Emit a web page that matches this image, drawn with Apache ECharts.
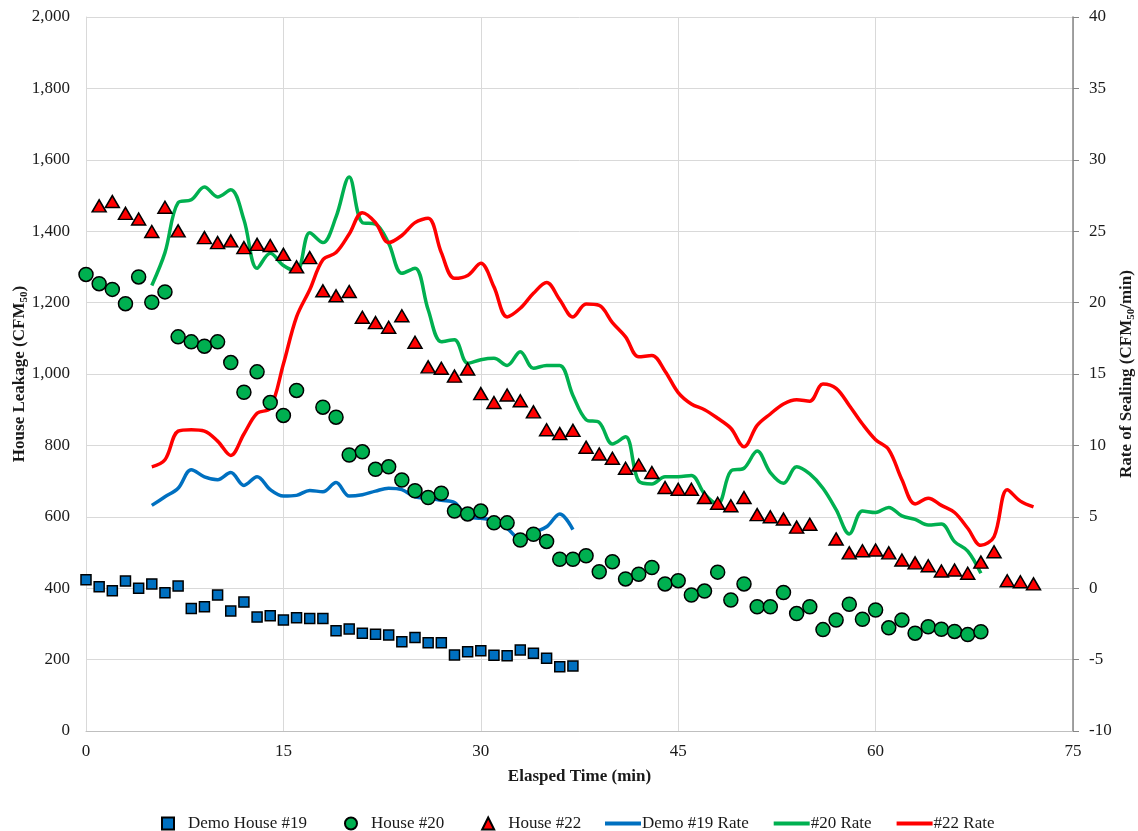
<!DOCTYPE html>
<html>
<head>
<meta charset="utf-8">
<script src="https://cdn.jsdelivr.net/npm/echarts@6/dist/echarts.min.js"></script>
<style>
html,body{margin:0;padding:0;background:#fff;}
#chart{width:1138px;height:831px;}
</style>
</head>
<body>
<div id="chart"></div>
<script>
// ---- Data ----
// House leakage (CFM50), one value per elapsed minute starting at minute 0 (null = no reading)
const demo19Leak = [424,404,393,420,400,412,387,406,343,348,381,336,361,319,323,311,317,315,315,281,286,274,271,269,250,262,247,247,213,222,225,212,211,227,218,204,180,182];
const house20Leak = [1279,1253,1237,1197,1272,1201,1230,1104,1090,1078,1090,1032,949,1006,920,884,954,null,907,879,773,782,733,740,703,673,654,666,616,608,616,583,583,535,551,531,481,481,491,446,474,426,439,458,412,421,381,392,445,367,412,348,348,388,329,348,284,311,355,313,339,289,311,274,292,285,279,270,278];
const house22Leak = [null,1471,1483,1450,1434,1399,1467,1401,null,1382,1368,1373,1354,1363,1360,1335,1300,1326,1233,1219,1231,1159,1144,1131,1163,1089,1020,1016,994,1014,945,920,941,925,894,844,833,842,795,776,764,736,745,724,682,677,677,654,638,631,654,606,600,594,571,579,null,538,499,505,507,499,479,471,463,448,451,442,473,502,421,418,412];

// Rate of sealing (CFM50/min), one value per minute starting at the given first minute
const rate19Start = 5;
const rate19 = [5.8,6.4,7.0,8.3,7.8,7.6,8.1,7.2,7.8,6.9,6.45,6.5,6.85,6.75,7.4,6.45,6.55,6.8,7.0,6.9,6.4,6.3,6.15,6.0,5.0,4.9,4.75,4.2,3.45,3.9,4.3,5.2,4.1];
const rate20Start = 5;
const rate20 = [21.2,23.5,27.0,27.2,28.1,27.4,27.9,25.8,22.4,23.45,22.6,22.2,24.9,24.2,26.0,28.8,25.6,25.5,24.15,22.05,22.4,19.5,17.26,17.4,15.75,16.0,16.1,15.6,16.56,15.4,15.6,15.6,13.5,11.8,11.6,10.1,10.6,7.5,7.3,7.8,7.8,7.9,6.6,5.9,8.2,8.4,9.6,8.1,7.35,8.5,8.0,7.0,5.5,3.8,5.4,5.3,5.66,5.06,4.82,4.43,4.5,3.26,2.6,1.04];
const rate22Start = 5;
const rate22 = [8.5,9.0,11.0,11.1,11.0,10.3,9.3,10.8,12.25,12.6,15.7,19.0,20.9,23.0,23.5,24.8,26.3,25.6,24.2,24.7,25.6,25.9,23.5,21.7,21.9,22.75,21.1,19.0,19.6,20.65,21.4,20.2,19.0,19.9,19.8,18.6,17.6,16.2,16.3,15.2,13.7,12.9,12.5,11.9,11.2,9.9,11.4,12.2,12.9,13.2,13.1,14.3,14.0,12.8,11.5,10.4,9.7,7.6,5.9,6.3,5.8,5.3,4.2,3.0,3.6,6.9,6.1,5.7];

// Axis ticks
const xTicks = {min:0, max:75, interval:15};
const leftTicks = {min:0, max:2000, interval:200};
const rightTicks = {min:-10, max:40, interval:5};

const seriesNames = ['Demo House #19','House #20','House #22','Demo #19 Rate','#20 Rate','#22 Rate'];

// ---- Build ----
function pairs(arr, start){
  const out = [];
  arr.forEach((v,i)=>{ if(v!==null) out.push([start+i, v]); });
  return out;
}

const FONT = '"Liberation Serif", "Times New Roman", serif';
const TXT = '#1a1a1a';

const chart = echarts.init(document.getElementById('chart'), null, {renderer:'canvas'});

const markerBorder = {borderColor:'#000', borderWidth:1.5, opacity:1};

const nameRich = {
  a:{fontFamily:FONT, fontSize:17, fontWeight:'bold', color:TXT, lineHeight:20},
  s:{fontFamily:FONT, fontSize:11, fontWeight:'bold', color:TXT, lineHeight:20, verticalAlign:'bottom'}
};

chart.setOption({
  backgroundColor:'#fff',
  animation:false,
  textStyle:{fontFamily:FONT, color:TXT},
  grid:{left:86, right:65, top:17, bottom:100, containLabel:false, outerBoundsMode:'none'},
  legend:[
    {
      data:[
        {name:seriesNames[0], icon:'rect'},
        {name:seriesNames[1], icon:'circle'},
        {name:seriesNames[2], icon:'triangle'}
      ],
      left:156, top:810,
      itemWidth:12, itemHeight:12, itemGap:37,
      textStyle:{fontFamily:FONT, fontSize:17, color:TXT, padding:[0,0,0,9]}
    },
    {
      data:[
        {name:seriesNames[3], icon:'rect'},
        {name:seriesNames[4], icon:'rect'},
        {name:seriesNames[5], icon:'rect'}
      ],
      left:600, top:810,
      itemWidth:36, itemHeight:4, itemGap:25,
      itemStyle:{borderWidth:0},
      textStyle:{fontFamily:FONT, fontSize:17, color:TXT, padding:[0,0,0,-4]}
    }
  ],
  xAxis:{
    type:'value', min:xTicks.min, max:xTicks.max, interval:xTicks.interval,
    name:'Elasped Time (min)', nameLocation:'middle', nameGap:37,
    nameTextStyle:{fontFamily:FONT, fontSize:17, fontWeight:'bold', color:TXT},
    axisLine:{show:true, lineStyle:{color:'#BFBFBF', width:1}},
    axisTick:{show:false},
    axisLabel:{fontFamily:FONT, fontSize:17, color:TXT, margin:12},
    splitLine:{show:true, lineStyle:{color:'#D9D9D9', width:1}}
  },
  yAxis:[
    {
      type:'value', min:leftTicks.min, max:leftTicks.max, interval:leftTicks.interval,
      position:'left',
      name:'{a|House Leakage (CFM}{s|50}{a|)}', nameLocation:'middle', nameGap:56, nameRotate:90,
      nameMoveOverlap:false,
      nameTextStyle:{rich:nameRich},
      axisLine:{show:true, lineStyle:{color:'#D9D9D9', width:1}},
      axisTick:{show:false},
      axisLabel:{fontFamily:FONT, fontSize:17, color:TXT, margin:16},
      splitLine:{show:true, lineStyle:{color:'#D9D9D9', width:1}}
    },
    {
      type:'value', min:rightTicks.min, max:rightTicks.max, interval:rightTicks.interval,
      position:'right',
      name:'{a|Rate of Sealing (CFM}{s|50}{a|/min)}', nameLocation:'middle', nameGap:44, nameRotate:90,
      nameMoveOverlap:false,
      nameTextStyle:{rich:nameRich},
      axisLine:{show:true, lineStyle:{color:'#868686', width:1.5}},
      axisTick:{show:true, inside:false, length:6, lineStyle:{color:'#868686', width:1}},
      axisLabel:{fontFamily:FONT, fontSize:17, color:TXT, margin:16},
      splitLine:{show:false}
    }
  ],
  series:[
    {
      name:seriesNames[0], type:'scatter', yAxisIndex:0, z:5,
      symbol:'rect', symbolSize:10,
      itemStyle:Object.assign({color:'#0070C0'}, markerBorder),
      data:pairs(demo19Leak,0)
    },
    {
      name:seriesNames[1], type:'scatter', yAxisIndex:0, z:5,
      symbol:'circle', symbolSize:14,
      itemStyle:Object.assign({color:'#00B050'}, markerBorder),
      data:pairs(house20Leak,0)
    },
    {
      name:seriesNames[2], type:'scatter', yAxisIndex:0, z:5,
      symbol:'triangle', symbolSize:[14,12],
      itemStyle:Object.assign({color:'#FF0000'}, markerBorder),
      data:pairs(house22Leak,0)
    },
    {
      name:seriesNames[3], type:'line', yAxisIndex:1, z:4,
      symbol:'none', smooth:0.35,
      lineStyle:{color:'#0070C0', width:3.5}, itemStyle:{color:'#0070C0'},
      data:pairs(rate19,rate19Start)
    },
    {
      name:seriesNames[4], type:'line', yAxisIndex:1, z:4,
      symbol:'none', smooth:0.35,
      lineStyle:{color:'#00B050', width:3.5}, itemStyle:{color:'#00B050'},
      data:pairs(rate20,rate20Start)
    },
    {
      name:seriesNames[5], type:'line', yAxisIndex:1, z:4,
      symbol:'none', smooth:0.35,
      lineStyle:{color:'#FF0000', width:3.5}, itemStyle:{color:'#FF0000'},
      data:pairs(rate22,rate22Start)
    }
  ]
});
</script>
</body>
</html>
